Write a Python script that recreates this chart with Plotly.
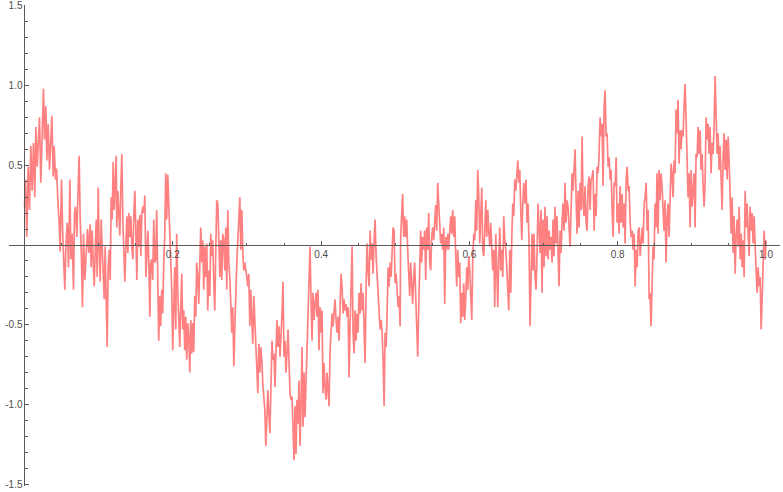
import plotly.graph_objects as go

# values, in six stretches along the x axis
x_a = [0.0000, 0.0013, 0.0031, 0.0049, 0.0067, 0.0085, 0.0103, 0.0121, 0.0139, 0.0153,
       0.0171, 0.0189, 0.0202, 0.0220, 0.0238, 0.0256, 0.0270, 0.0288, 0.0301, 0.0319,
       0.0337, 0.0355, 0.0369, 0.0387, 0.0400, 0.0418, 0.0432, 0.0450, 0.0468, 0.0481,
       0.0499, 0.0517, 0.0531, 0.0544, 0.0558, 0.0576, 0.0594, 0.0612, 0.0625, 0.0643,
       0.0661, 0.0674, 0.0688, 0.0706, 0.0719, 0.0737, 0.0751, 0.0764, 0.0782, 0.0796,
       0.0814, 0.0832, 0.0850, 0.0868, 0.0886, 0.0899, 0.0913, 0.0926, 0.0940, 0.0953,
       0.0967, 0.0980, 0.0994, 0.1007, 0.1021, 0.1034, 0.1048, 0.1061, 0.1075, 0.1088,
       0.1102, 0.1115, 0.1129, 0.1142, 0.1156, 0.1169, 0.1183, 0.1196, 0.1210, 0.1223,
       0.1237, 0.1245, 0.1259, 0.1272, 0.1286, 0.1299, 0.1313, 0.1326, 0.1340, 0.1353,
       0.1367, 0.1380, 0.1394, 0.1407, 0.1421, 0.1434, 0.1448, 0.1461, 0.1475, 0.1488,
       0.1502, 0.1515, 0.1529, 0.1543, 0.1556, 0.1569, 0.1583, 0.1596, 0.1610, 0.1623,
       0.1637, 0.1650, 0.1664, 0.1677, 0.1691]
y_a = [0.24, 0.41, 0.05, 0.49, 0.22, 0.62, 0.34, 0.64, 0.30, 0.74,
       0.49, 0.63, 0.80, 0.39, 0.72, 0.98, 0.66, 0.87, 0.53, 0.76,
       0.47, 0.66, 0.81, 0.43, 0.62, 0.41, 0.48, 0.28, 0.14, -0.04,
       0.41, 0.05, -0.10, -0.28, -0.01, 0.14, -0.14, 0.41, -0.09, 0.07,
       -0.28, 0.20, 0.24, 0.05, 0.28, 0.56, 0.16, -0.01, -0.39, 0.07,
       -0.22, -0.01, 0.10, -0.05, 0.13, -0.14, 0.09, -0.09, -0.26, -0.05,
       0.16, -0.20, 0.36, -0.01, -0.23, 0.16, -0.01, -0.09, -0.34, -0.01,
       -0.34, -0.64, -0.14, -0.03, -0.22, 0.30, 0.16, 0.52, 0.22, 0.41,
       0.56, 0.11, 0.34, 0.20, 0.06, 0.37, 0.57, 0.16, -0.01, -0.23,
       -0.01, 0.18, -0.05, 0.20, 0.05, 0.18, -0.01, -0.09, 0.20, 0.34,
       0.09, -0.22, 0.16, -0.01, 0.19, -0.07, 0.20, 0.24, 0.20, 0.31,
       -0.20, -0.09, 0.09, -0.11, -0.45]

x_b = [0.1702, 0.1716, 0.1729, 0.1743, 0.1756, 0.1770, 0.1783, 0.1797, 0.1810, 0.1824,
       0.1837, 0.1851, 0.1864, 0.1878, 0.1891, 0.1905, 0.1918, 0.1932, 0.1945, 0.1959,
       0.1972, 0.1986, 0.1999, 0.2013, 0.2026, 0.2040, 0.2053, 0.2067, 0.2080, 0.2094,
       0.2107, 0.2121, 0.2134, 0.2148, 0.2161, 0.2175, 0.2188, 0.2202, 0.2215, 0.2229,
       0.2242, 0.2256, 0.2269, 0.2283, 0.2296, 0.2310, 0.2323, 0.2337, 0.2350, 0.2364,
       0.2377, 0.2391, 0.2404, 0.2418, 0.2431, 0.2445, 0.2458, 0.2472, 0.2485, 0.2499,
       0.2512, 0.2526, 0.2539, 0.2553, 0.2566, 0.2580, 0.2593, 0.2607, 0.2620, 0.2634,
       0.2647, 0.2661, 0.2674, 0.2688, 0.2701, 0.2715, 0.2728, 0.2742, 0.2755, 0.2769,
       0.2782, 0.2796, 0.2809, 0.2823, 0.2836, 0.2850, 0.2863, 0.2877, 0.2890, 0.2904,
       0.2917, 0.2931, 0.2944, 0.2958, 0.2971, 0.2985, 0.2998, 0.3012, 0.3025, 0.3039,
       0.3052, 0.3066, 0.3079, 0.3093, 0.3106, 0.3120, 0.3133, 0.3147, 0.3160, 0.3174,
       0.3187, 0.3201, 0.3214, 0.3228, 0.3241, 0.3255, 0.3268, 0.3282, 0.3295, 0.3309]
y_b = [-0.11, -0.09, -0.22, 0.16, -0.11, -0.09, 0.22, -0.11, -0.60, -0.32,
       -0.51, -0.28, -0.43, -0.11, 0.05, 0.45, 0.16, 0.44, 0.24, 0.14,
       -0.11, -0.28, -0.66, -0.32, -0.14, -0.53, 0.07, -0.28, -0.45, -0.64,
       -0.39, -0.18, -0.53, -0.41, -0.66, -0.45, -0.72, -0.49, -0.57, -0.80,
       -0.47, -0.68, -0.49, -0.67, -0.32, -0.45, -0.11, -0.20, -0.37, -0.09,
       0.11, -0.11, 0.03, -0.28, -0.01, -0.20, 0.01, -0.41, -0.16, -0.32,
       0.07, -0.07, 0.03, -0.24, -0.41, -0.03, 0.28, 0.26, -0.03, -0.20,
       0.03, -0.22, 0.07, 0.03, -0.16, 0.11, -0.28, 0.22, -0.11, -0.20,
       -0.37, -0.55, -0.39, -0.76, -0.53, -0.24, -0.11, 0.03, 0.18, 0.30,
       -0.03, 0.22, -0.05, -0.16, -0.11, -0.18, -0.20, -0.26, -0.18, -0.51,
       -0.28, -0.47, -0.62, -0.32, -0.45, -0.57, -0.72, -0.93, -0.62, -0.80,
       -0.64, -0.72, -0.87, -0.95, -1.03, -1.26, -0.99, -0.91, -1.05, -1.18]

x_c = [0.3324, 0.3338, 0.3351, 0.3365, 0.3378, 0.3392, 0.3405, 0.3419, 0.3432, 0.3446,
       0.3459, 0.3473, 0.3486, 0.3500, 0.3513, 0.3527, 0.3540, 0.3554, 0.3567, 0.3581,
       0.3594, 0.3608, 0.3621, 0.3635, 0.3648, 0.3662, 0.3675, 0.3689, 0.3702, 0.3716,
       0.3729, 0.3743, 0.3756, 0.3770, 0.3783, 0.3797, 0.3810, 0.3824, 0.3837, 0.3851,
       0.3864, 0.3878, 0.3891, 0.3905, 0.3918, 0.3932, 0.3945, 0.3959, 0.3972, 0.3986,
       0.3999, 0.4013, 0.4026, 0.4040, 0.4053, 0.4067, 0.4080, 0.4094, 0.4107, 0.4121,
       0.4134, 0.4148, 0.4161, 0.4175, 0.4188, 0.4202, 0.4215, 0.4229, 0.4242, 0.4256,
       0.4269, 0.4283, 0.4296, 0.4310, 0.4323, 0.4337, 0.4350, 0.4364, 0.4377, 0.4391,
       0.4404, 0.4418, 0.4431, 0.4445, 0.4458, 0.4472, 0.4485, 0.4499, 0.4512, 0.4526,
       0.4539, 0.4553, 0.4566, 0.4580, 0.4593, 0.4607, 0.4620, 0.4634, 0.4647, 0.4661,
       0.4674, 0.4688, 0.4701, 0.4715, 0.4728, 0.4742, 0.4755, 0.4769, 0.4782, 0.4796,
       0.4809, 0.4823, 0.4836, 0.4850, 0.4863, 0.4877, 0.4890, 0.4904, 0.4917, 0.4931,
       0.4944, 0.4958, 0.4971, 0.4985, 0.4998, 0.5012, 0.5025, 0.5039, 0.5052, 0.5066]
y_c = [-0.89, -0.60, -0.72, -0.68, -0.89, -0.55, -0.47, -0.64, -0.51, -0.70,
       -0.60, -0.43, -0.23, -0.70, -0.60, -0.80, -0.68, -0.53, -0.72, -0.93,
       -0.97, -0.95, -1.14, -1.35, -1.01, -1.31, -0.97, -1.12, -0.85, -1.26,
       -1.01, -0.64, -1.14, -0.80, -1.08, -0.85, -0.66, -0.51, -0.26, -0.01,
       -0.34, -0.60, -0.30, -0.47, -0.37, -0.30, -0.45, -0.28, -0.66, -0.39,
       -0.55, -0.41, -0.93, -0.74, -0.89, -0.97, -0.80, -0.93, -1.01, -0.66,
       -0.57, -0.43, -0.51, -0.41, -0.34, -0.47, -0.55, -0.45, -0.60, -0.39,
       -0.18, -0.26, -0.43, -0.34, -0.41, -0.37, -0.45, -0.39, -0.83, -0.51,
       -0.30, -0.01, -0.55, -0.68, -0.41, -0.60, -0.43, -0.55, -0.30, -0.43,
       -0.24, -0.41, -0.30, -0.47, -0.74, -0.26, 0.01, -0.16, -0.26, 0.09,
       -0.09, 0.01, -0.18, 0.03, 0.16, -0.07, -0.18, -0.30, -0.43, -0.53,
       -0.47, -0.55, -0.72, -1.01, -0.55, -0.64, -0.43, -0.14, -0.26, -0.11,
       -0.20, -0.01, 0.11, 0.09, -0.24, -0.18, -0.30, -0.39, -0.32, -0.51]

x_d = [0.5073, 0.5087, 0.5100, 0.5114, 0.5127, 0.5141, 0.5154, 0.5168, 0.5181, 0.5195,
       0.5208, 0.5222, 0.5235, 0.5249, 0.5262, 0.5276, 0.5289, 0.5303, 0.5316, 0.5330,
       0.5343, 0.5357, 0.5370, 0.5384, 0.5397, 0.5411, 0.5424, 0.5438, 0.5451, 0.5465,
       0.5478, 0.5492, 0.5505, 0.5519, 0.5532, 0.5546, 0.5559, 0.5573, 0.5586, 0.5600,
       0.5613, 0.5627, 0.5640, 0.5654, 0.5667, 0.5681, 0.5694, 0.5708, 0.5721, 0.5735,
       0.5748, 0.5762, 0.5775, 0.5789, 0.5802, 0.5816, 0.5829, 0.5843, 0.5856, 0.5870,
       0.5883, 0.5897, 0.5910, 0.5924, 0.5937, 0.5951, 0.5964, 0.5978, 0.5991, 0.6005,
       0.6018, 0.6032, 0.6045, 0.6059, 0.6072, 0.6086, 0.6099, 0.6113, 0.6126, 0.6140,
       0.6153, 0.6167, 0.6180, 0.6194, 0.6207, 0.6221, 0.6234, 0.6248, 0.6261, 0.6275,
       0.6288, 0.6302, 0.6315, 0.6329, 0.6342, 0.6356, 0.6369, 0.6383, 0.6396, 0.6410,
       0.6423, 0.6437, 0.6450, 0.6464, 0.6477, 0.6491, 0.6504, 0.6518, 0.6531, 0.6545,
       0.6558, 0.6572, 0.6585, 0.6599, 0.6612, 0.6626, 0.6639, 0.6653, 0.6666, 0.6680,
       0.6693, 0.6707, 0.6720, 0.6734, 0.6747]
y_d = [0.05, 0.18, 0.32, 0.05, 0.18, 0.05, 0.16, -0.03, -0.20, -0.32,
       -0.11, -0.24, -0.37, -0.20, -0.11, -0.32, -0.49, -0.70, -0.41, -0.20,
       0.09, -0.11, 0.05, -0.03, 0.09, -0.22, 0.11, -0.03, 0.20, -0.11,
       -0.16, 0.05, 0.11, 0.03, 0.16, 0.25, 0.09, 0.39, 0.26, 0.14,
       0.01, 0.07, -0.03, 0.11, -0.37, 0.05, -0.03, 0.07, -0.03, 0.09,
       0.18, 0.07, 0.22, 0.05, 0.18, -0.07, -0.26, -0.03, -0.20, -0.11,
       -0.49, -0.30, -0.45, -0.24, -0.47, -0.34, -0.14, -0.28, -0.07, -0.16,
       -0.30, -0.47, -0.09, 0.07, 0.03, 0.28, 0.09, 0.47, 0.32, 0.01,
       0.18, 0.36, -0.03, -0.07, 0.09, 0.28, 0.05, 0.22, 0.09, -0.01,
       0.14, -0.09, -0.16, -0.03, -0.39, 0.07, -0.18, -0.39, -0.09, 0.11,
       -0.16, -0.03, -0.20, 0.18, 0.03, -0.03, -0.14, -0.30, -0.41, -0.03,
       -0.30, 0.05, 0.26, 0.18, 0.41, 0.34, 0.45, 0.53, 0.39, 0.47,
       0.22, 0.03, 0.26, 0.39, 0.30]

x_e = [0.6750, 0.6764, 0.6777, 0.6791, 0.6804, 0.6818, 0.6831, 0.6845, 0.6858, 0.6872,
       0.6885, 0.6899, 0.6912, 0.6926, 0.6939, 0.6953, 0.6966, 0.6980, 0.6993, 0.7007,
       0.7020, 0.7034, 0.7047, 0.7061, 0.7074, 0.7088, 0.7101, 0.7115, 0.7128, 0.7142,
       0.7155, 0.7169, 0.7182, 0.7196, 0.7209, 0.7223, 0.7236, 0.7250, 0.7263, 0.7277,
       0.7290, 0.7304, 0.7317, 0.7331, 0.7344, 0.7358, 0.7371, 0.7385, 0.7398, 0.7412,
       0.7425, 0.7439, 0.7452, 0.7466, 0.7479, 0.7493, 0.7506, 0.7520, 0.7533, 0.7547,
       0.7560, 0.7574, 0.7587, 0.7601, 0.7614, 0.7628, 0.7641, 0.7655, 0.7668, 0.7682,
       0.7695, 0.7709, 0.7722, 0.7736, 0.7749, 0.7763, 0.7776, 0.7790, 0.7803, 0.7817,
       0.7830, 0.7844, 0.7857, 0.7871, 0.7884, 0.7898, 0.7911, 0.7925, 0.7938, 0.7952,
       0.7965, 0.7979, 0.7992, 0.8006, 0.8019, 0.8033, 0.8046, 0.8060, 0.8073, 0.8087,
       0.8100, 0.8114, 0.8127, 0.8141, 0.8154, 0.8168, 0.8181, 0.8195, 0.8208, 0.8222,
       0.8235, 0.8249, 0.8262, 0.8276, 0.8289, 0.8303, 0.8316, 0.8330, 0.8343, 0.8357,
       0.8370, 0.8384, 0.8397, 0.8411, 0.8424]
y_e = [0.26, 0.41, 0.14, 0.26, 0.01, -0.51, -0.07, 0.07, -0.16, 0.07,
       -0.20, -0.28, -0.07, 0.26, 0.11, -0.05, 0.22, -0.30, 0.16, -0.14,
       0.24, -0.07, 0.18, -0.09, 0.09, -0.03, 0.05, -0.11, 0.16, -0.07,
       0.24, 0.01, 0.18, -0.07, -0.26, 0.09, -0.05, 0.14, 0.26, 0.09,
       0.39, 0.14, 0.28, 0.24, 0.09, -0.01, 0.22, 0.45, 0.34, 0.47,
       0.60, 0.30, 0.07, 0.34, 0.11, 0.39, 0.22, 0.68, 0.26, 0.18,
       0.37, 0.14, 0.09, 0.37, 0.43, 0.22, 0.41, 0.43, 0.47, 0.09,
       0.32, 0.18, 0.49, 0.45, 0.57, 0.80, 0.68, 0.76, 0.37, 0.87,
       0.97, 0.68, 0.70, 0.49, 0.55, 0.41, 0.47, 0.22, 0.05, 0.39,
       0.37, 0.55, 0.14, 0.26, 0.07, 0.37, 0.14, 0.32, 0.11, 0.26,
       0.01, 0.41, 0.49, 0.34, 0.37, 0.14, 0.05, 0.09, -0.03, 0.07,
       -0.26, -0.03, -0.14, 0.09, 0.11, -0.07, 0.05, 0.11, 0.01, 0.26,
       0.30, 0.39, 0.09, 0.22, -0.34]

x_f = [0.8436, 0.8450, 0.8463, 0.8477, 0.8490, 0.8504, 0.8517, 0.8531, 0.8544, 0.8558,
       0.8571, 0.8585, 0.8598, 0.8612, 0.8625, 0.8639, 0.8652, 0.8666, 0.8679, 0.8693,
       0.8706, 0.8720, 0.8733, 0.8747, 0.8760, 0.8774, 0.8787, 0.8801, 0.8814, 0.8828,
       0.8841, 0.8855, 0.8868, 0.8882, 0.8895, 0.8909, 0.8922, 0.8936, 0.8949, 0.8963,
       0.8976, 0.8990, 0.9003, 0.9017, 0.9030, 0.9044, 0.9057, 0.9071, 0.9084, 0.9098,
       0.9111, 0.9125, 0.9138, 0.9152, 0.9165, 0.9179, 0.9192, 0.9206, 0.9219, 0.9233,
       0.9246, 0.9260, 0.9273, 0.9287, 0.9300, 0.9314, 0.9327, 0.9341, 0.9354, 0.9368,
       0.9381, 0.9395, 0.9408, 0.9422, 0.9435, 0.9449, 0.9462, 0.9476, 0.9489, 0.9503,
       0.9516, 0.9530, 0.9543, 0.9557, 0.9570, 0.9584, 0.9597, 0.9611, 0.9624, 0.9638,
       0.9651, 0.9665, 0.9678, 0.9692, 0.9705, 0.9719, 0.9732, 0.9746, 0.9759, 0.9773,
       0.9786, 0.9800, 0.9813, 0.9827, 0.9840, 0.9854, 0.9867, 0.9881, 0.9894, 0.9908,
       0.9921, 0.9935, 0.9948, 0.9962, 0.9975, 0.9989, 1.0000]
y_f = [-0.30, -0.51, -0.18, -0.01, -0.09, 0.26, 0.11, 0.45, 0.07, 0.47,
       0.28, 0.45, 0.37, 0.20, 0.09, 0.28, -0.11, 0.16, 0.26, 0.05,
       0.22, 0.51, 0.45, 0.30, 0.53, 0.45, 0.85, 0.70, 0.91, 0.51,
       0.72, 0.60, 0.72, 0.68, 0.87, 1.01, 0.80, 0.53, 0.30, 0.45,
       0.11, 0.47, 0.24, 0.34, 0.45, 0.11, 0.57, 0.55, 0.74, 0.57,
       0.72, 0.47, 0.57, 0.37, 0.24, 0.39, 0.80, 0.66, 0.76, 0.57,
       0.74, 0.45, 0.64, 0.57, 0.74, 1.06, 0.87, 0.57, 0.70, 0.47,
       0.62, 0.37, 0.22, 0.55, 0.70, 0.47, 0.66, 0.41, 0.68, 0.53,
       0.28, 0.07, 0.30, -0.05, 0.18, -0.18, 0.05, 0.16, -0.01, 0.24,
       -0.09, 0.07, -0.14, 0.03, -0.20, 0.34, 0.11, 0.26, 0.07, -0.07,
       0.24, 0.09, 0.20, 0.01, 0.18, -0.09, -0.16, -0.30, -0.14, -0.26,
       -0.20, -0.53, -0.30, -0.09, 0.09, -0.09, 0.03]

x_major = [0.2, 0.4, 0.6, 0.8, 1.0]
x_labels = ["0.2", "0.4", "0.6", "0.8", "1.0"]
x_minor = [0.05, 0.1, 0.15, 0.25, 0.3, 0.35, 0.45, 0.5, 0.55, 0.65, 0.7, 0.75, 0.85, 0.9, 0.95]
y_major = [-1.5, -1.0, -0.5, 0.5, 1.0, 1.5]
y_labels = ["-1.5", "-1.0", "-0.5", "0.5", "1.0", "1.5"]
y_minor = [-1.4, -1.3, -1.2, -1.1, -0.9, -0.8, -0.7, -0.6, -0.4, -0.3, -0.2, -0.1,
           0.1, 0.2, 0.3, 0.4, 0.6, 0.7, 0.8, 0.9, 1.1, 1.2, 1.3, 1.4]

xs = x_a + x_b + x_c + x_d + x_e + x_f
ys = y_a + y_b + y_c + y_d + y_e + y_f
assert len(xs) == len(ys)

axcol = "#5a5a5a"
tickfont = dict(family="Liberation Sans, Arial, sans-serif", size=10, color="#4d4d4d")

fig = go.Figure()
fig.add_trace(go.Scatter(x=xs, y=ys, mode="lines",
                         line=dict(color="#ff8080", width=1.7),
                         hoverinfo="skip", showlegend=False))

fig.update_layout(
    width=783, height=492,
    margin=dict(l=9, r=3, t=5, b=6),
    paper_bgcolor="white", plot_bgcolor="white",
    xaxis=dict(range=[-0.0209, 1.0189], anchor="free", position=0.501,
               showgrid=False, zeroline=False, showline=True,
               linecolor=axcol, linewidth=1,
               tickmode="array", tickvals=x_major, ticktext=x_labels,
               ticks="inside", ticklen=4, tickcolor=axcol, tickwidth=1,
               minor=dict(tickmode="array", tickvals=x_minor, ticks="inside",
                          ticklen=2.5, tickcolor=axcol, tickwidth=1),
               tickfont=tickfont, automargin=False),
    yaxis=dict(range=[-1.511, 1.5047], anchor="free", position=0.0201,
               showgrid=False, zeroline=False, showline=True,
               linecolor=axcol, linewidth=1,
               tickmode="array", tickvals=y_major, ticktext=y_labels,
               ticks="inside", ticklen=4, tickcolor=axcol, tickwidth=1,
               minor=dict(tickmode="array", tickvals=y_minor, ticks="inside",
                          ticklen=2.5, tickcolor=axcol, tickwidth=1),
               tickfont=tickfont, automargin=False),
)

# the page body has an 8px margin by default; drop it so the figure sits at 0,0
fig.write_html("out.html", config={"displayModeBar": False},
               post_script="document.body.style.margin='0';")
